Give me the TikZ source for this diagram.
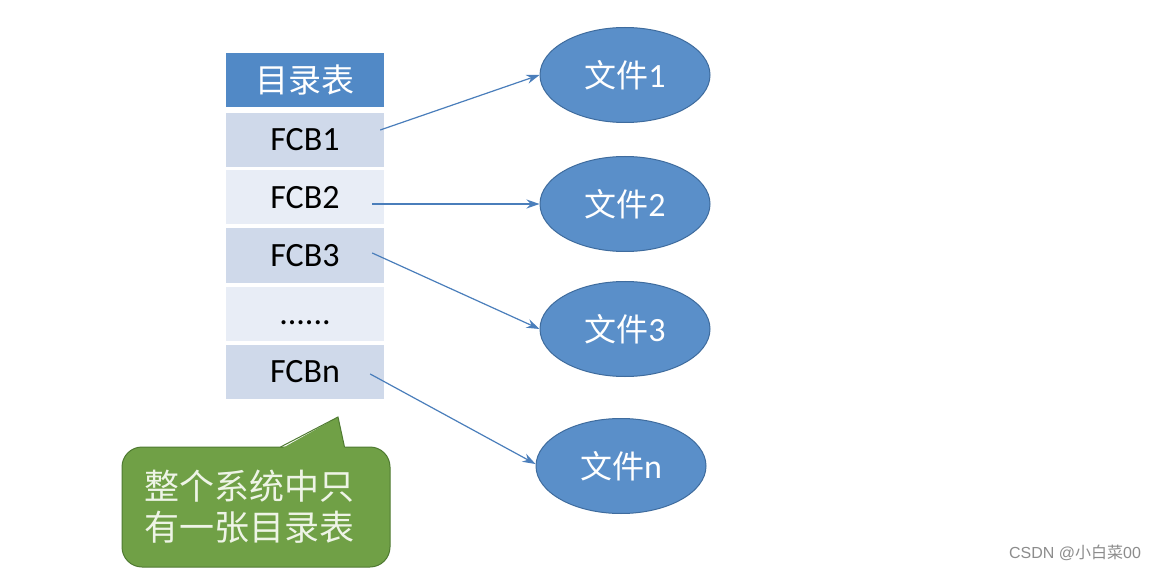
\documentclass[tikz,border=0pt]{standalone}
\usepackage{fontspec}
\setmainfont{Carlito}
\newfontfamily\cjk{Noto Sans CJK SC}
\newfontfamily\wmfont{Liberation Sans}
\usetikzlibrary{shapes.geometric,arrows.meta}
\definecolor{hdr}{HTML}{5189C6}
\definecolor{rowd}{HTML}{CFD9EA}
\definecolor{rowl}{HTML}{E8EDF6}
\definecolor{ellf}{HTML}{5A8FC9}
\definecolor{elld}{HTML}{3F6C9E}
\definecolor{arr}{HTML}{4A7EBB}
\definecolor{grn}{HTML}{70A046}
\definecolor{grnd}{HTML}{4F7A31}
\definecolor{calltxt}{HTML}{EEF4E6}
\tikzset{
  cell/.style={rectangle, minimum width=158pt, minimum height=54pt, inner sep=0pt, font=\fontsize{34}{38}\selectfont, text=black},
  darkcell/.style={cell, fill=rowd},
  lightcell/.style={cell, fill=rowl},
  fileell/.style={ellipse, fill=ellf, draw=elld, line width=1pt, minimum width=170pt, minimum height=95pt, inner sep=0pt, text=white, font=\fontsize{34}{38}\selectfont},
  link/.style={draw=arr, line width=1.2pt, -{Stealth[length=13pt,width=9pt]}},
}
\begin{document}
\begin{tikzpicture}[x=1pt,y=-1pt]
\useasboundingbox[fill=white] (0,0) rectangle (1157,572);
% table
\node[cell, fill=hdr, text=white, font=\cjk\fontsize{33}{36}\selectfont] (hdr) at (305,80) {目录表};
\node[darkcell] (fcb1) at (305,140) {FCB1};
\node[lightcell] (fcb2) at (305,197.5) {FCB2};
\node[darkcell] (fcb3) at (305,255.5) {FCB3};
\node[lightcell] (dots) at (305,313.5) {\vphantom{F}......};
\node[darkcell] (fcbn) at (305,372) {FCBn};
% files
\node[fileell] (f1) at (625,75) {{\cjk\fontsize{32}{36}\selectfont 文件}1};
\node[fileell] (f2) at (625,204) {{\cjk\fontsize{32}{36}\selectfont 文件}2};
\node[fileell] (f3) at (625,329) {{\cjk\fontsize{32}{36}\selectfont 文件}3};
\node[fileell] (fn) at (621,466) {{\cjk\fontsize{32}{36}\selectfont 文件}n};
% links
\draw[link] ([xshift=-4pt,yshift=10pt]fcb1.east) -- (f1.west);
\draw[link] ([xshift=-12pt,yshift=-6.5pt]fcb2.east) -- (f2.west);
\draw[link] ([xshift=-12pt,yshift=2.5pt]fcb3.east) -- (f3.west);
\draw[link] ([xshift=-14pt,yshift=-2pt]fcbn.east) -- ([yshift=2pt]fn.west);
% callout
\node[rectangle, rounded corners=20pt, fill=grn, draw=grnd, line width=1pt, minimum width=268pt, minimum height=120pt] (callout) at (256,507) {};
\fill[grn] (280,449.5) -- (338,417) -- (345,449.5) -- cycle;
\draw[grnd, line width=1pt, line join=miter] (280.5,447) -- (338,417) -- (344.5,447);
\node[align=left, text=calltxt, font=\cjk\fontsize{35}{41}\selectfont, inner sep=0pt] (calltext) at (249,507) {整个系统中只\\有一张目录表};
% watermark
\node[text=black!45, font=\wmfont\fontsize{16}{18}\selectfont, inner sep=0pt] (wm) at (1075,553) {CSDN @{\cjk 小白菜}00};
\end{tikzpicture}
\end{document}
